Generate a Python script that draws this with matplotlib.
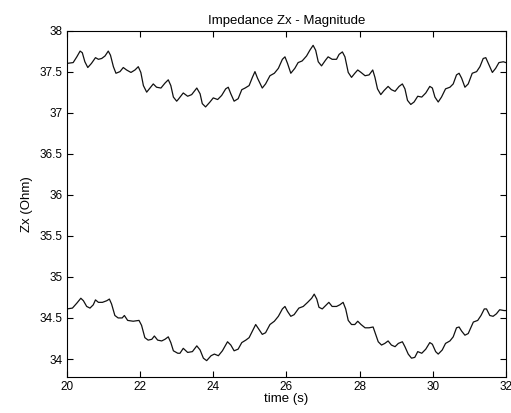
import matplotlib
matplotlib.use("Agg")
import matplotlib.pyplot as plt
from matplotlib.ticker import FuncFormatter

# upper trace
t_top = [20.00, 20.17, 20.27, 20.36, 20.42, 20.49, 20.57, 20.67, 20.78, 20.86, 20.95,
         21.04, 21.13, 21.19, 21.27, 21.34, 21.45, 21.54, 21.63, 21.75, 21.86, 21.95,
         22.02, 22.09, 22.18, 22.27, 22.36, 22.45, 22.57, 22.68, 22.77, 22.84, 22.91,
         23.00, 23.04, 23.18, 23.30, 23.41, 23.55, 23.64, 23.70, 23.79, 23.91, 24.00,
         24.12, 24.23, 24.34, 24.41, 24.48, 24.57, 24.68, 24.78, 24.87, 24.98, 25.07,
         25.14, 25.21, 25.34, 25.43, 25.55, 25.67, 25.78, 25.89, 25.96, 26.03, 26.12,
         26.23, 26.32, 26.43, 26.55, 26.64, 26.73, 26.80, 26.87, 26.96, 27.07, 27.14,
         27.25, 27.37, 27.44, 27.53, 27.60, 27.69, 27.78, 27.87, 27.95, 28.04, 28.15,
         28.26, 28.36, 28.42, 28.49, 28.58, 28.67, 28.78, 28.87, 28.97, 29.08, 29.17,
         29.24, 29.31, 29.40, 29.49, 29.59, 29.70, 29.81, 29.92, 29.99, 30.06, 30.15,
         30.24, 30.35, 30.47, 30.56, 30.65, 30.72, 30.79, 30.88, 30.97, 31.08, 31.20,
         31.29, 31.38, 31.45, 31.52, 31.63, 31.72, 31.81, 31.93, 32.00]
z_top = [37.60, 37.61, 37.68, 37.75, 37.73, 37.62, 37.55, 37.60, 37.67, 37.65, 37.66,
         37.69, 37.75, 37.70, 37.56, 37.48, 37.50, 37.55, 37.52, 37.49, 37.52, 37.56,
         37.49, 37.33, 37.25, 37.30, 37.35, 37.31, 37.30, 37.36, 37.40, 37.33, 37.19,
         37.14, 37.16, 37.24, 37.20, 37.22, 37.30, 37.23, 37.11, 37.07, 37.13, 37.18,
         37.16, 37.21, 37.29, 37.31, 37.23, 37.14, 37.17, 37.28, 37.30, 37.33, 37.43,
         37.50, 37.42, 37.30, 37.35, 37.45, 37.48, 37.54, 37.65, 37.68, 37.60, 37.48,
         37.54, 37.61, 37.63, 37.69, 37.76, 37.82, 37.76, 37.62, 37.57, 37.64, 37.68,
         37.65, 37.65, 37.71, 37.74, 37.68, 37.49, 37.43, 37.48, 37.52, 37.49, 37.45,
         37.46, 37.52, 37.43, 37.29, 37.22, 37.27, 37.32, 37.28, 37.26, 37.32, 37.35,
         37.29, 37.15, 37.10, 37.13, 37.20, 37.19, 37.24, 37.32, 37.30, 37.19, 37.13,
         37.19, 37.29, 37.31, 37.35, 37.46, 37.48, 37.42, 37.31, 37.35, 37.48, 37.50,
         37.56, 37.66, 37.67, 37.60, 37.49, 37.54, 37.61, 37.62, 37.61]

# lower trace
t_bot = [20.00, 20.15, 20.27, 20.38, 20.45, 20.54, 20.63, 20.72, 20.78, 20.86, 20.97,
         21.09, 21.16, 21.22, 21.31, 21.40, 21.51, 21.57, 21.66, 21.81, 21.97, 22.04,
         22.13, 22.22, 22.32, 22.39, 22.48, 22.59, 22.68, 22.77, 22.84, 22.91, 23.03,
         23.09, 23.18, 23.30, 23.43, 23.55, 23.64, 23.73, 23.82, 23.94, 24.03, 24.14,
         24.25, 24.39, 24.48, 24.57, 24.68, 24.78, 24.89, 24.98, 25.07, 25.16, 25.25,
         25.34, 25.43, 25.55, 25.67, 25.78, 25.89, 25.96, 26.03, 26.12, 26.21, 26.34,
         26.46, 26.58, 26.69, 26.76, 26.83, 26.89, 26.98, 27.07, 27.16, 27.25, 27.37,
         27.46, 27.55, 27.62, 27.69, 27.78, 27.87, 27.95, 28.04, 28.15, 28.26, 28.37,
         28.44, 28.51, 28.60, 28.69, 28.78, 28.87, 28.97, 29.06, 29.17, 29.24, 29.33,
         29.42, 29.51, 29.59, 29.70, 29.81, 29.92, 29.99, 30.08, 30.15, 30.26, 30.35,
         30.47, 30.56, 30.65, 30.72, 30.79, 30.88, 30.97, 31.11, 31.23, 31.32, 31.41,
         31.47, 31.56, 31.65, 31.74, 31.83, 31.95, 32.00]
z_bot = [34.61, 34.62, 34.68, 34.74, 34.71, 34.64, 34.62, 34.66, 34.72, 34.69, 34.69,
         34.71, 34.73, 34.67, 34.53, 34.50, 34.50, 34.53, 34.47, 34.46, 34.47, 34.41,
         34.26, 34.23, 34.24, 34.28, 34.23, 34.22, 34.24, 34.27, 34.20, 34.10, 34.07,
         34.07, 34.13, 34.08, 34.09, 34.16, 34.11, 34.01, 33.98, 34.04, 34.06, 34.04,
         34.10, 34.21, 34.17, 34.10, 34.12, 34.20, 34.23, 34.26, 34.34, 34.42, 34.36,
         34.30, 34.32, 34.42, 34.46, 34.52, 34.61, 34.64, 34.58, 34.52, 34.54, 34.62,
         34.64, 34.69, 34.74, 34.79, 34.73, 34.63, 34.61, 34.65, 34.69, 34.64, 34.64,
         34.66, 34.69, 34.61, 34.47, 34.42, 34.42, 34.46, 34.42, 34.38, 34.38, 34.39,
         34.30, 34.21, 34.17, 34.19, 34.22, 34.17, 34.15, 34.19, 34.21, 34.15, 34.06,
         34.01, 34.02, 34.09, 34.07, 34.12, 34.20, 34.18, 34.09, 34.06, 34.11, 34.19,
         34.22, 34.27, 34.38, 34.39, 34.34, 34.29, 34.31, 34.45, 34.47, 34.53, 34.61,
         34.61, 34.53, 34.52, 34.55, 34.60, 34.59, 34.59]

x_ticks = [20, 22, 24, 26, 28, 30, 32]
y_ticks = [34, 34.5, 35, 35.5, 36, 36.5, 37, 37.5, 38]

plt.rcParams['font.family'] = ['Liberation Sans', 'DejaVu Sans']
plt.rcParams['font.size'] = 8.5

fig = plt.figure(figsize=(5.11, 4.13), dpi=100)
ax = fig.add_axes([0.131, 0.087, 0.859, 0.839])

ax.plot(t_top, z_top, color='#111111', lw=0.9, solid_joinstyle='round')
ax.plot(t_bot, z_bot, color='#111111', lw=0.9, solid_joinstyle='round')

ax.set_xlim(20, 32)
ax.set_ylim(33.78, 38)
ax.set_xticks(x_ticks)
ax.set_yticks(y_ticks)
ax.yaxis.set_major_formatter(FuncFormatter(lambda v, p: '%g' % v))
ax.tick_params(direction='in', top=True, right=True, length=4, width=0.8, pad=3)
for s in ax.spines.values():
    s.set_linewidth(0.8)

ax.set_title("Impedance Zx - Magnitude", fontsize=9.5, pad=5)
ax.set_xlabel("time (s)", fontsize=9.5, labelpad=0)
ax.set_ylabel("Zx (Ohm)", fontsize=9.5, labelpad=5)

fig.savefig("out.png", dpi=100)
